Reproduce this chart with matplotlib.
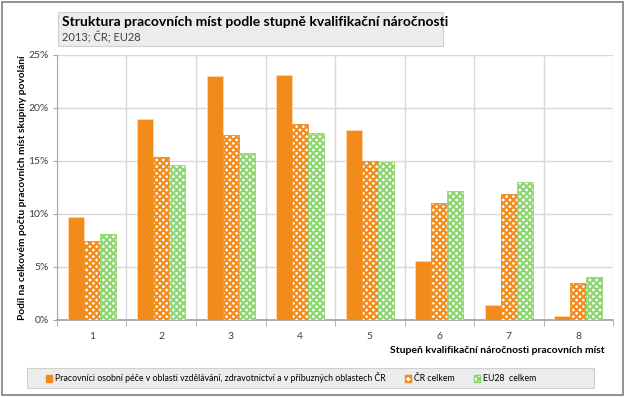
#!/usr/bin/env python3
import matplotlib
matplotlib.use('Agg')
import matplotlib.pyplot as plt
from matplotlib.patches import Rectangle, Patch
import numpy as np

plt.rcParams['font.family'] = ['Lato', 'DejaVu Sans']
plt.rcParams['hatch.linewidth'] = 1.6

# Data
categories = ['1', '2', '3', '4', '5', '6', '7', '8']
pece = [9.7, 19.0, 23.0, 23.1, 17.9, 5.6, 1.4, 0.4]
cr_celkem = [7.45, 15.4, 17.45, 18.5, 15.0, 11.05, 11.9, 3.45]
eu_celkem = [8.1, 14.6, 15.75, 17.6, 14.9, 12.15, 13.0, 4.05]
series_labels = [
    'Pracovníci osobní péče v oblasti vzdělávání, zdravotnictví a v příbuzných oblastech ČR',
    'ČR celkem',
    'EU28  celkem',
]

ORANGE = '#f28b1a'
GREEN = '#8fd672'
GRID = '#d9d9d9'


def main():
    fig = plt.figure(figsize=(6.27, 3.97), dpi=100)
    fig.patches.append(Rectangle((0.003, 0.005), 0.991, 0.99, transform=fig.transFigure,
                                 fill=False, edgecolor='#7f7f7f', linewidth=1.2))

    ax = fig.add_axes([0.0909, 0.194, 0.8868, 0.6675])
    x = np.arange(len(categories))
    w = 0.23
    ax.bar(x - w, pece, w, color=ORANGE, edgecolor='#fbd7ad', linewidth=0.6, zorder=3,
           label=series_labels[0])
    ax.bar(x, cr_celkem, w, color='white', edgecolor=ORANGE, hatch='xxxxx', linewidth=0.6,
           zorder=3, label=series_labels[1])
    ax.bar(x + w, eu_celkem, w, color='white', edgecolor=GREEN, hatch='xxxxx', linewidth=0.6,
           zorder=3, label=series_labels[2])

    ax.set_xlim(-0.5, len(categories) - 0.5)
    ax.set_ylim(0, 25)
    ax.set_yticks(np.arange(0, 26, 5))
    ax.set_yticklabels(['{}%'.format(v) for v in range(0, 26, 5)], fontsize=7.5, color='#404040')
    ax.set_xticks(x)
    ax.set_xticklabels(categories, fontsize=7.5, color='#404040')
    ax.tick_params(axis='x', length=0, pad=9)
    ax.tick_params(axis='y', length=3, color='#a6a6a6', pad=3)
    ax.set_xticks(np.arange(-0.5, len(categories)), minor=True)
    ax.tick_params(axis='x', which='minor', length=4, color='#a6a6a6')
    ax.grid(axis='y', color=GRID, linewidth=1, zorder=0)
    ax.grid(axis='x', which='minor', color=GRID, linewidth=1, zorder=0)
    for s in ['top', 'right']:
        ax.spines[s].set_visible(False)
    ax.spines['left'].set_color('#a6a6a6')
    ax.spines['bottom'].set_color('#a6a6a6')
    ax.spines['bottom'].set_linewidth(1.3)

    fig.text(0.036, 0.527, 'Podíl na celkovém počtu pracovních míst skupiny povolání',
             fontsize=7.3, fontweight='bold', rotation=90, ha='center', va='center')
    fig.text(0.965, 0.117, 'Stupeň kvalifikační náročnosti pracovních míst',
             fontsize=7.5, fontweight='bold', ha='right', va='center')

    # title box
    fig.patches.append(Rectangle((0.0925, 0.883), 0.614, 0.088, transform=fig.transFigure,
                                 facecolor='#ececec', edgecolor='#d0d0d0', linewidth=0.8))
    fig.text(0.099, 0.945, 'Struktura pracovních míst podle stupně kvalifikační náročnosti',
             fontsize=10, fontweight='bold', va='center')
    fig.text(0.099, 0.905, '2013; ČR; EU28', fontsize=8, va='center', color='#404040')

    # legend box
    fig.patches.append(Rectangle((0.043, 0.022), 0.904, 0.052, transform=fig.transFigure,
                                 facecolor='#ececec', edgecolor='#d0d0d0', linewidth=0.8))
    handles = [
        Patch(facecolor=ORANGE, edgecolor=ORANGE),
        Patch(facecolor='white', edgecolor=ORANGE, hatch='xxxx'),
        Patch(facecolor='white', edgecolor=GREEN, hatch='xxxx'),
    ]
    fig.legend(handles, series_labels, loc='center left', bbox_to_anchor=(0.073, 0.048),
               ncol=3, frameon=False, fontsize=6.3, handlelength=0.75, handleheight=0.75,
               handletextpad=0.3, columnspacing=2.2, borderaxespad=0, borderpad=0)

    fig.savefig('out.png', dpi=100)


if __name__ == '__main__':
    main()
